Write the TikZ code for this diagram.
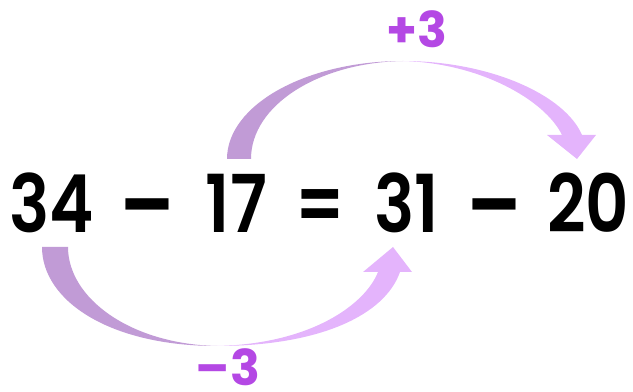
\documentclass[tikz,border=0pt]{standalone}
\usepackage{fontspec}
\usepackage{graphicx}
\setmainfont{Poppins}
\newfontfamily\eqfont{Poppins SemiBold}[FakeStretch=0.84]
\definecolor{arrowdark}{HTML}{C19BD6}
\definecolor{arrowlight}{HTML}{E4B4FC}
\definecolor{labelpurple}{HTML}{B448E4}
\tikzset{
  eqterm/.style={anchor=base, inner sep=0pt, font=\fontsize{60}{66}\eqfont, text=black},
  eqdash/.style={anchor=base, inner sep=0pt, font=\fontsize{60}{66}\selectfont\bfseries, text=black},
  steplabel/.style={anchor=base, inner sep=0pt, font=\fontsize{37}{42}\selectfont\bfseries, text=labelpurple},
  darkpart/.style={fill=arrowdark, draw=none},
  lightpart/.style={fill=arrowlight, draw=none}
}
\begin{document}
\begin{tikzpicture}[x=0.75pt, y=-0.75pt]
\useasboundingbox (0,0) rectangle (633,392);
% equation
\node[eqterm] (a) at (51.5,233) {34};
\node[eqdash] (m1) at (147.5,233) {\scalebox{0.97}[1]{–}};
\node[eqterm] (b) at (236.5,233) {17};
\node[eqterm] (eq) at (320,233) {=};
\node[eqterm] (c) at (406.5,233) {31};
\node[eqdash] (m2) at (494,233) {\scalebox{0.97}[1]{–}};
\node[eqterm] (d) at (588,233) {20};
% labels
\node[steplabel] (plus) at (417,48) {+3};
\node[steplabel] (minus) at (228,386) {–3};
% top arrow (+3)
\fill[darkpart] (227,159) .. controls (227,105) and (306,61) .. (403,61)
  .. controls (319,62.5) and (251,105) .. (251,159) -- cycle;
\fill[lightpart] (403,61) .. controls (490,61) and (565,95) .. (582,135)
  -- (562,135) .. controls (545,100) and (480,63) .. (403,61) -- cycle;
\fill[lightpart] (547,135) -- (596,135) -- (577,159) -- cycle;
% bottom arrow (-3)
\fill[darkpart] (42,247) .. controls (42,301) and (110,346) .. (217,346)
  .. controls (130,344) and (68,298) .. (68,247) -- cycle;
\fill[lightpart] (217,346) .. controls (320,346) and (385,315) .. (400,272)
  -- (378,272) .. controls (365,305) and (310,344) .. (217,346) -- cycle;
\fill[lightpart] (363,272) -- (412,272) -- (393,247) -- cycle;
\end{tikzpicture}
\end{document}
